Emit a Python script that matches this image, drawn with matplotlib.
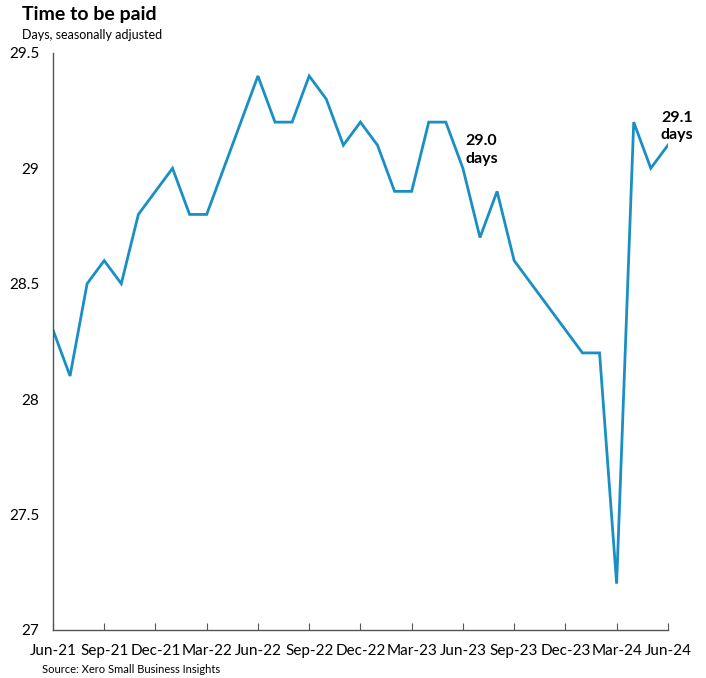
import matplotlib
matplotlib.use("Agg")
import matplotlib.pyplot as plt

plt.rcParams['font.family'] = ['Lato', 'DejaVu Sans']

# monthly series, Jun-21 .. Jun-24
months = ['Jun-21', 'Jul-21', 'Aug-21', 'Sep-21', 'Oct-21', 'Nov-21', 'Dec-21',
          'Jan-22', 'Feb-22', 'Mar-22', 'Apr-22', 'May-22', 'Jun-22', 'Jul-22',
          'Aug-22', 'Sep-22', 'Oct-22', 'Nov-22', 'Dec-22', 'Jan-23', 'Feb-23',
          'Mar-23', 'Apr-23', 'May-23', 'Jun-23', 'Jul-23', 'Aug-23', 'Sep-23',
          'Oct-23', 'Nov-23', 'Dec-23', 'Jan-24', 'Feb-24', 'Mar-24', 'Apr-24',
          'May-24', 'Jun-24']
days = [28.3, 28.1, 28.5, 28.6, 28.5, 28.8, 28.9,
        29.0, 28.8, 28.8, 29.0, 29.2, 29.4, 29.2,
        29.2, 29.4, 29.3, 29.1, 29.2, 29.1, 28.9,
        28.9, 29.2, 29.2, 29.0, 28.7, 28.9, 28.6,
        28.5, 28.4, 28.3, 28.2, 28.2, 27.2, 29.2,
        29.0, 29.1]
yticks = [27, 27.5, 28, 28.5, 29, 29.5]
ytick_labels = ['27', '27.5', '28', '28.5', '29', '29.5']

x = list(range(len(months)))

fig = plt.figure(figsize=(7.06, 6.78), dpi=100)
ax = fig.add_axes([0.075, 0.071, 0.871, 0.851])

ax.plot(x, days, color='#1a8fc4', linewidth=2.0, solid_joinstyle='miter')

ax.set_xlim(0, len(months) - 1)
ax.set_ylim(27, 29.5)
ax.set_yticks(yticks)
ax.set_yticklabels(ytick_labels, fontsize=11)
ax.set_xticks(x[::3])
ax.set_xticklabels(months[::3], fontsize=11)

for s in ['top', 'right']:
    ax.spines[s].set_visible(False)
for s in ['left', 'bottom']:
    ax.spines[s].set_color('#555555')
    ax.spines[s].set_linewidth(1.0)
ax.tick_params(axis='y', length=0, pad=10)
ax.tick_params(axis='x', direction='in', length=5, color='#555555', pad=10)

# value labels for the mid-2023 and latest points
i_mid = months.index('Jun-23')
ax.annotate('%.1f\ndays' % days[i_mid], (x[i_mid], days[i_mid]),
            xytext=(2, 2), textcoords='offset points', fontsize=11.5,
            fontweight='bold', ha='left', va='bottom', linespacing=1.3)
i_last = len(months) - 1
ax.annotate('%.1f\ndays' % days[i_last], (x[i_last], days[i_last]),
            xytext=(-5, 2), textcoords='offset points', fontsize=11.5,
            fontweight='bold', ha='left', va='bottom', linespacing=1.3)

fig.text(0.031, 0.978, 'Time to be paid', fontsize=14, fontweight='bold',
         ha='left', va='center')
fig.text(0.031, 0.948, 'Days, seasonally adjusted', fontsize=9,
         ha='left', va='center')
fig.text(0.06, 0.012, 'Source: Xero Small Business Insights', fontsize=8,
         ha='left', va='center')

fig.savefig('out.png', dpi=100)
